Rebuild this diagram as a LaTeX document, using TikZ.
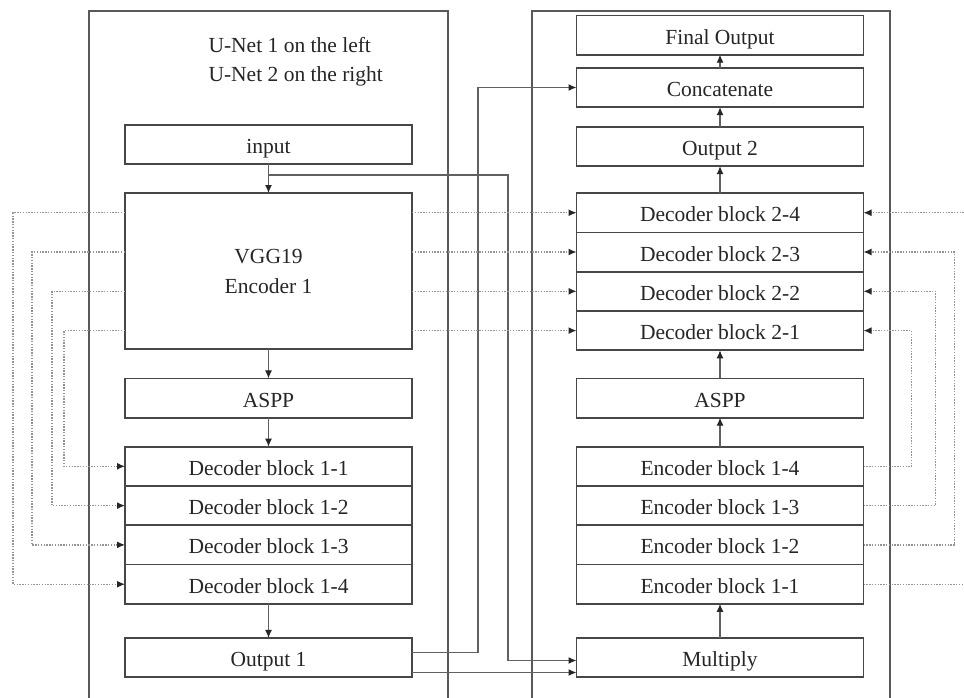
\documentclass[tikz,border=0pt]{standalone}
\usepackage{fontspec}
\setmainfont{Liberation Serif}
\usetikzlibrary{arrows.meta,positioning}

\tikzset{
	block/.style={draw=black!72, line width=1.7pt, fill=white, minimum width=287pt,
		minimum height=39.3pt, inner sep=0pt, outer sep=0pt, text=black!85,
		text height=20pt, text depth=2pt, font=\fontsize{21.5}{30}\selectfont},
	flow/.style={draw=black!62, line width=1.2pt, -{Latex[length=8pt,width=7pt,color=black!85]}},
	skip/.style={draw=black!42, line width=1.3pt, dash pattern=on 1.4pt off 1.4pt,
		-{Latex[length=8pt,width=7pt,color=black!85]}},
	frame/.style={draw=black!65, line width=1.8pt},
}

\begin{document}
\begin{tikzpicture}[x=1pt, y=-1pt]
		\clip (0,0) rectangle (964,697);
		\fill[white] (0,0) rectangle (964,697);
		% the two networks
		\draw[frame] (89,720) |- (448,11) -- (448,720);
		\draw[frame] (532,720) |- (890,11) -- (890,720);
		\node[anchor=west, align=left, text=black!85, font=\fontsize{21.5}{29}\selectfont] (title) at (205,62)
			{U-Net 1 on the left\\U-Net 2 on the right};

		% left column
		\node[block] (input) at (268.5,144.5) {input};
		\node[block, minimum height=156pt, align=center, text height=, text depth=] (vgg) at (268.5,271) {VGG19\\Encoder 1};
		\node[block] (aspp1) at (268.5,398) {ASPP};
		\node[block, below=29pt of aspp1] (dec11) {Decoder block 1-1};
		\node[block, below=0pt of dec11] (dec12) {Decoder block 1-2};
		\node[block, below=0pt of dec12] (dec13) {Decoder block 1-3};
		\node[block, below=0pt of dec13] (dec14) {Decoder block 1-4};
		\node[block] (out1) at (268.5,657.5) {Output 1};

		% right column
		\node[block] (final) at (720,35) {Final Output};
		\node[block] (concat) at (720,87.5) {Concatenate};
		\node[block] (out2) at (720,146.5) {Output 2};
		\node[block] (dec24) at (720,212.7) {Decoder block 2-4};
		\node[block, below=0pt of dec24] (dec23) {Decoder block 2-3};
		\node[block, below=0pt of dec23] (dec22) {Decoder block 2-2};
		\node[block, below=0pt of dec22] (dec21) {Decoder block 2-1};
		\node[block] (aspp2) at (720,398) {ASPP};
		\node[block, below=29pt of aspp2] (enc14) {Encoder block 1-4};
		\node[block, below=0pt of enc14] (enc13) {Encoder block 1-3};
		\node[block, below=0pt of enc13] (enc12) {Encoder block 1-2};
		\node[block, below=0pt of enc12] (enc11) {Encoder block 1-1};
		\node[block] (mult) at (720,657.5) {Multiply};

		% main flow
		\coordinate (tap) at (268.5,175);
		\draw[flow] (input) -- (vgg);
		\draw[flow] (vgg) -- (aspp1);
		\draw[flow] (aspp1) -- (dec11);
		\draw[flow] (dec14) -- (out1);
		\draw[flow] (tap) -- ++(239.5,0) |- ([yshift=-3pt]mult.west);
		\draw[flow] ([yshift=5pt]out1.east) -- ++(66,0) |- (concat.west);
		\draw[flow] ([yshift=-15pt]out1.east) -- ([yshift=-15pt]mult.west);
		\draw[flow] (mult) -- (enc11);
		\draw[flow] (enc14) -- (aspp2);
		\draw[flow] (aspp2) -- (dec21);
		\draw[flow] (dec24) -- (out2);
		\draw[flow] (out2) -- (concat);
		\draw[flow] (concat) -- (final);

		% skip connections
		\foreach \a/\b/\d in {24/14/112, 23/13/93, 22/12/73, 21/11/61} {
			\draw[skip] (vgg.east |- dec\a) -- (dec\a.west);
			\draw[skip] (vgg.west |- dec\a) -- +(-\d,0) |- (dec\b.west);
		}
		\foreach \a/\b/\d in {14/21/48, 13/22/72, 12/23/91, 11/24/136} {
			\draw[skip] (enc\a.east) -- +(\d,0) |- (dec\b.east);
		}
	\end{tikzpicture}
\end{document}
